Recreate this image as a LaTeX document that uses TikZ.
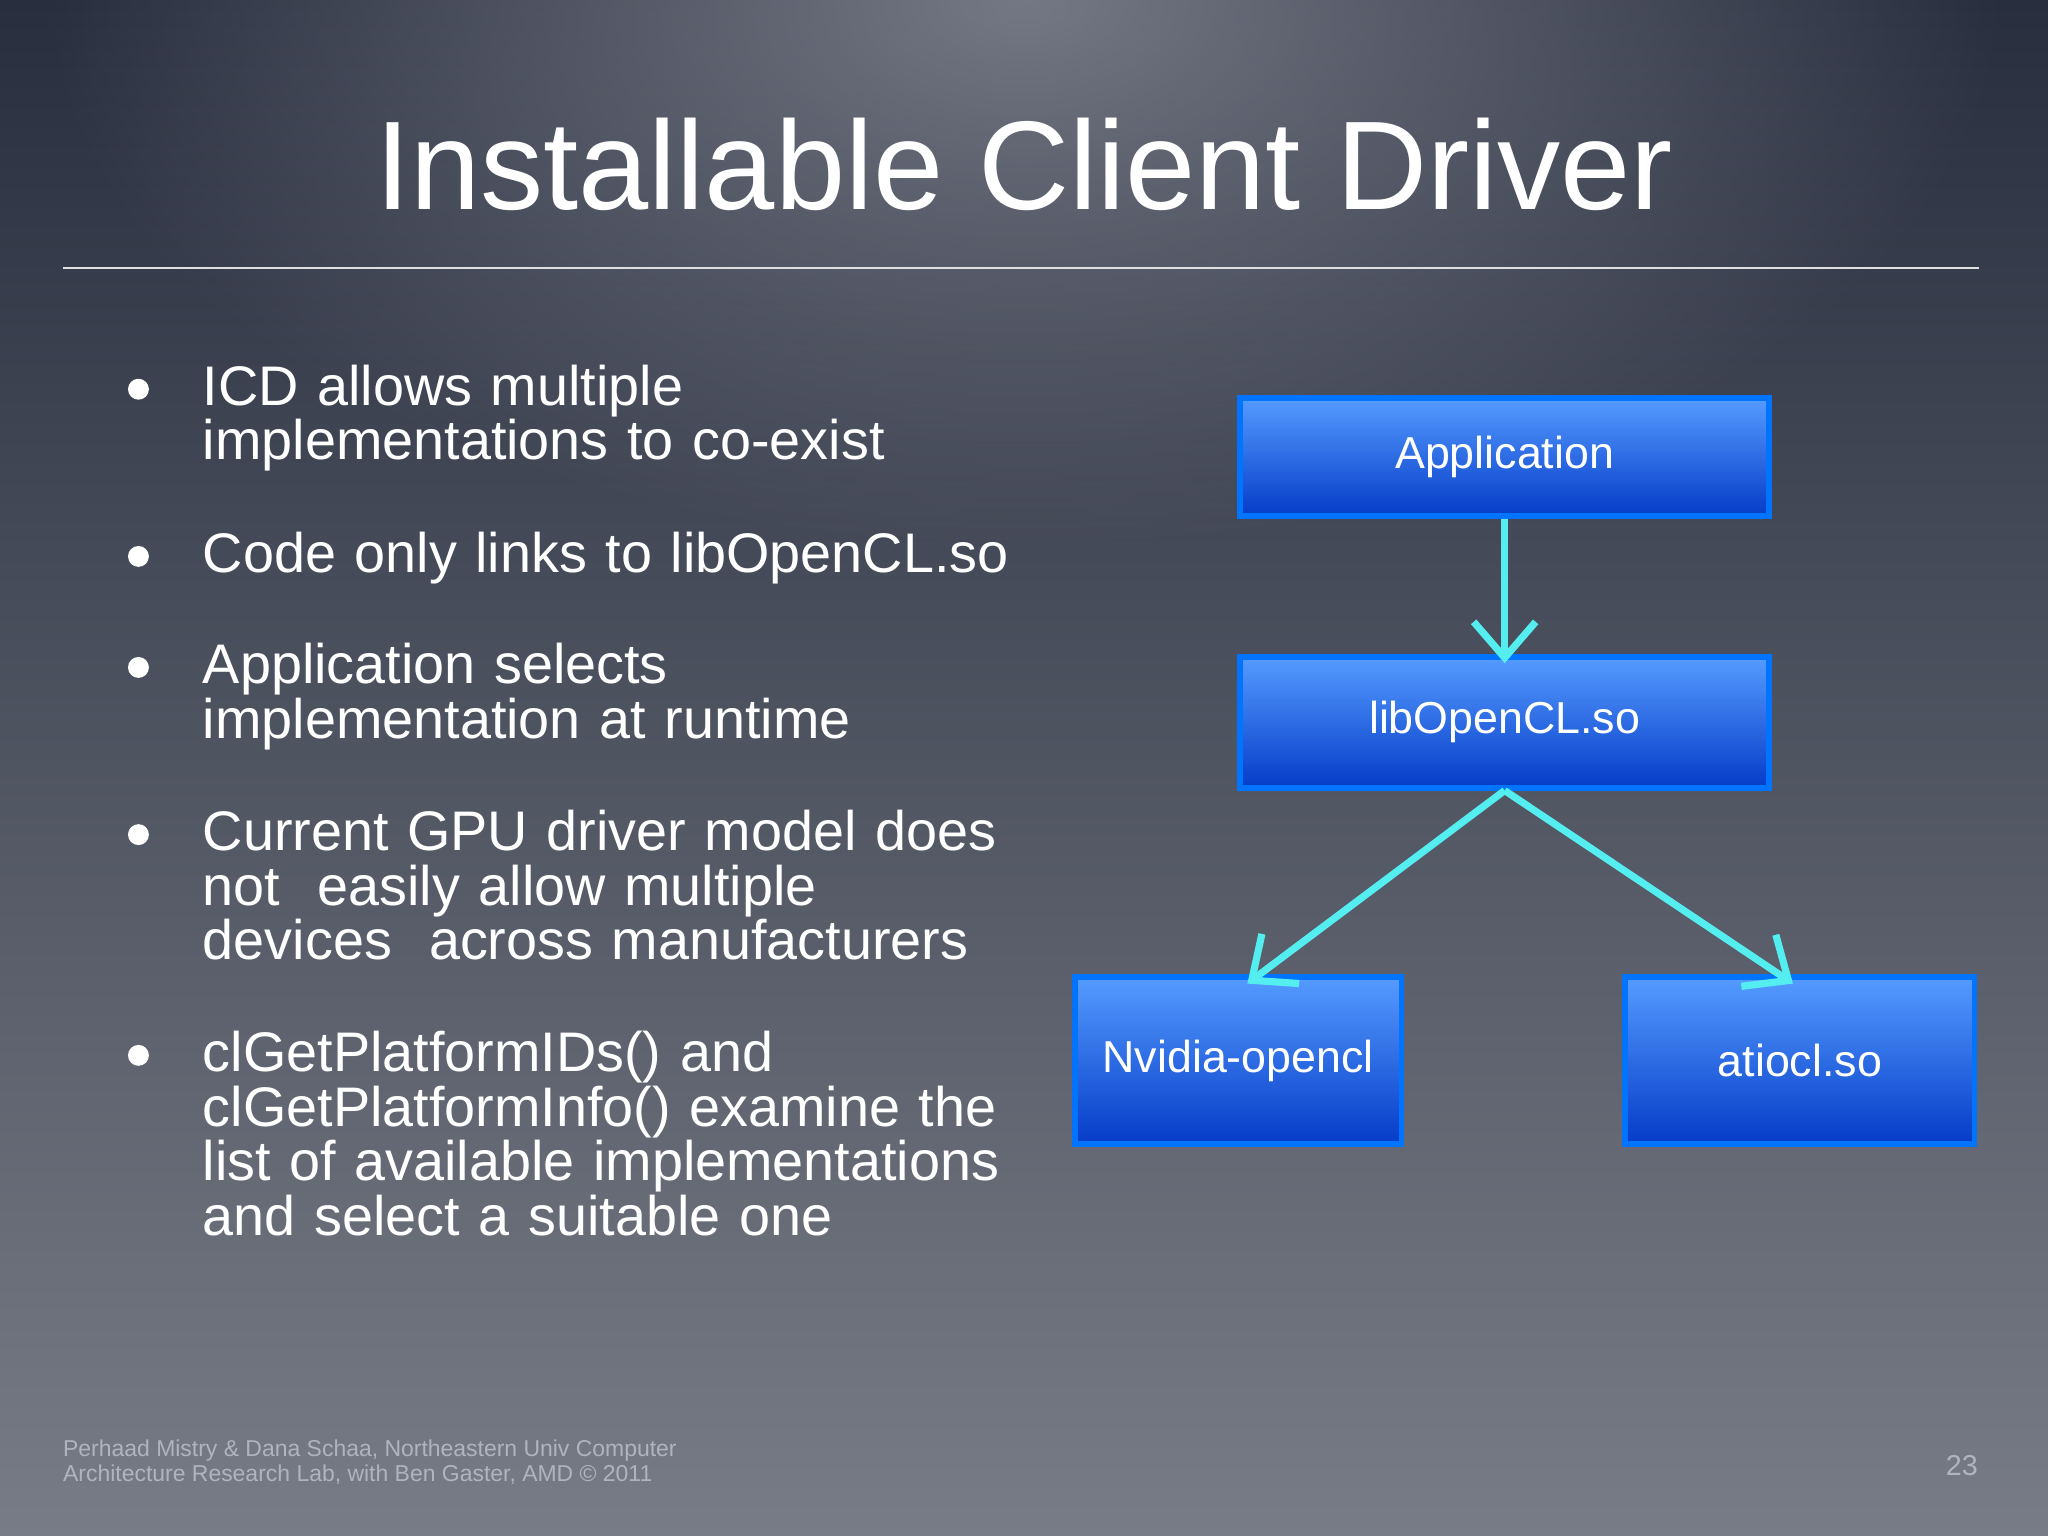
\documentclass[tikz,border=0pt]{standalone}
\usepackage{fontspec}
\setmainfont{Liberation Sans}
\usetikzlibrary{arrows.meta,fadings}
\definecolor{bgtop}{RGB}{40,46,62}
\definecolor{bgbot}{RGB}{120,124,134}
\definecolor{glow}{RGB}{125,128,140}
\definecolor{boxtop}{RGB}{85,155,255}
\definecolor{boxbot}{RGB}{5,60,200}
\definecolor{boxline}{RGB}{0,115,255}
\definecolor{flow}{RGB}{85,238,240}
\definecolor{foot}{RGB}{175,180,190}
\tikzfading[name=glowfade, inner color=transparent!0, outer color=transparent!100]
\tikzset{
    block/.style={draw=boxline, line width=0.09cm, top color=boxtop, bottom color=boxbot,
        text=white, font=\fontsize{19.5}{22}\selectfont, inner sep=0pt},
    link/.style={draw=flow, line width=0.11cm, -{Straight Barb[length=0.55cm,width=0.95cm,line width=0.11cm]}},
    bullet/.style={anchor=north west, text=white, text width=14cm, align=left,
        inner sep=0pt, font=\fontsize{24.3}{23.8}\selectfont}
}
\begin{document}
\begin{tikzpicture}[x=0.02cm, y=-0.02cm]
\useasboundingbox (0,0) rectangle (1568,1176);
\shade[top color=bgtop, bottom color=bgbot] (0,0) rectangle (1568,1176);
\fill[glow, path fading=glowfade, opacity=0.9] (784,0) ellipse [x radius=750, y radius=420];
% title
\node[text=white, font=\fontsize{55}{60}\selectfont] (title) at (784,126) {Installable Client Driver};
\draw[white!75!gray, line width=0.03cm] (48,205) -- (1515,205);
% bullets
\foreach \y/\txt in {
    283/{ICD allows multiple\\implementations to co-exist},
    411/{Code only links to libOpenCL.so},
    496/{Application selects\\implementation at runtime},
    624/{Current GPU driver model does\\not\ \ easily allow multiple\\devices\ \ across manufacturers},
    793/{clGetPlatformIDs() and\\clGetPlatformInfo() examine the\\list of available implementations\\and select a suitable one}}
{
    \fill[white] (106,\y+15) circle (8);
    \node[bullet] at (155,\y-4) {\txt};
}
% blocks
\node[block, minimum width=8.1cm, minimum height=1.8cm] (app) at (1152,350) {Application};
\node[block, minimum width=8.1cm, minimum height=2cm] (lib) at (1152,553) {libOpenCL.so};
\node[block, minimum width=5cm, minimum height=2.55cm] (nv) at (948,812) {Nvidia-opencl};
\node[block, minimum width=5.35cm, minimum height=2.55cm] (ati) at (1378,812) {atiocl.so};
\draw[link] (app.south) -- ([yshift=-4]lib.north);
\draw[link] (lib.south) -- ([xshift=4,yshift=-4]nv.north);
\draw[link] (lib.south) -- ([xshift=-3,yshift=-4]ati.north);
% footer
\node[anchor=north west, text=foot, align=left, inner sep=0pt, font=\fontsize{10}{10.8}\selectfont] (credit) at (48,1102)
    {Perhaad Mistry \& Dana Schaa, Northeastern Univ Computer\\Architecture Research Lab, with Ben Gaster, AMD \textcopyright\ 2011};
\node[text=foot, font=\fontsize{12.5}{14}\selectfont] (page) at (1502,1122) {23};
\end{tikzpicture}
\end{document}
